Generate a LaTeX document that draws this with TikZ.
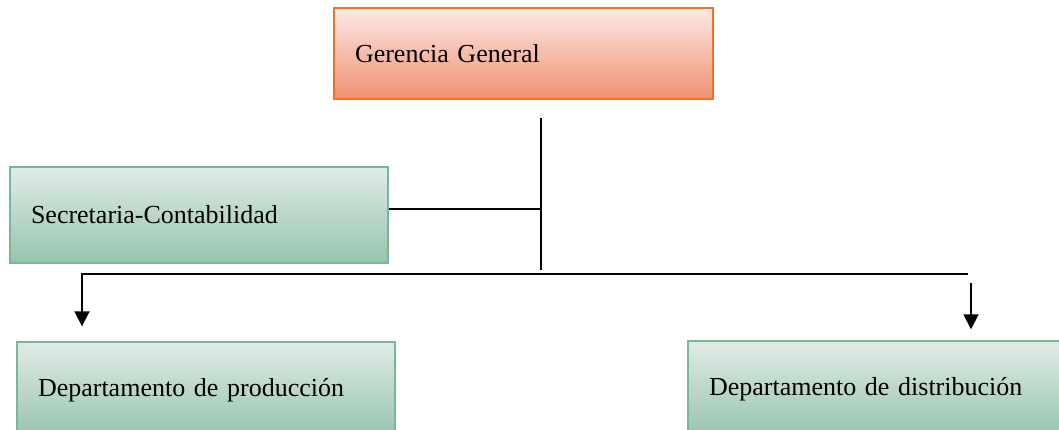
\documentclass[tikz,border=0pt]{standalone}
\usepackage{fontspec}
\setmainfont{Liberation Serif}
\usetikzlibrary{arrows.meta}
\definecolor{orTop}{RGB}{252,234,229}
\definecolor{orBot}{RGB}{239,144,112}
\definecolor{orLine}{RGB}{240,112,40}
\definecolor{grTop}{RGB}{224,236,230}
\definecolor{grBot}{RGB}{150,195,174}
\definecolor{grLine}{RGB}{122,182,152}
\begin{document}
\begin{tikzpicture}[x=1pt,y=-1pt,
  box/.style={draw, line width=1.4pt, inner xsep=21pt, inner ysep=0pt,
    align=left, font=\fontsize{26}{30}\selectfont, anchor=center},
  orangebox/.style={box, draw=orLine, top color=orTop, bottom color=orBot},
  greenbox/.style={box, draw=grLine, top color=grTop, bottom color=grBot},
  link/.style={line width=1.8pt, black},
  arr/.style={link, -{Triangle[width=15pt,length=15pt]}}]
\useasboundingbox (0,0) rectangle (1059,430);
\clip (0,0) rectangle (1059,430);

\node[orangebox, text width=337pt, minimum height=91pt] (gg) at (523.5,53.5) {Gerencia General};
\node[greenbox, text width=336pt, minimum height=96pt] (sc) at (199,215) {Secretaria-Contabilidad};
\node[greenbox, text width=336pt, minimum height=96pt] (pd) at (206,390) {Departamento de producción};
\node[greenbox, text width=342pt, minimum height=96pt] (dd) at (880,389) {Departamento de distribución};

\coordinate (vt) at (541,118);
\coordinate (vb) at (541,270);
\coordinate (sj) at (541,209);
\coordinate (hl) at (82,274);
\coordinate (hr) at (968,274);
\coordinate (ra) at (971,283);

\draw[link] (vt) -- (vb);
\draw[link] (sc.east |- sj) -- (sj);
\draw[arr, shorten >=15pt] (hr) -- (hl) -- (hl |- pd.north);
\draw[arr, shorten >=11pt] (ra) -- (ra |- dd.north);
\end{tikzpicture}
\end{document}
